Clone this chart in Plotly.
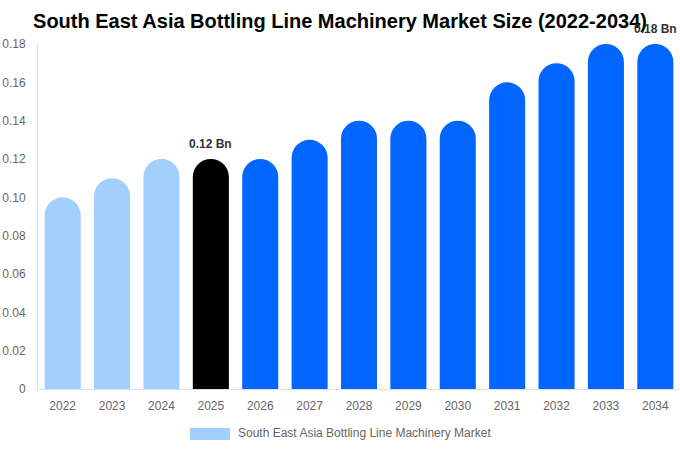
import plotly.graph_objects as go

years = ["2022", "2023", "2024", "2025", "2026", "2027", "2028", "2029", "2030", "2031", "2032", "2033", "2034"]
values = [0.10, 0.11, 0.12, 0.12, 0.12, 0.13, 0.14, 0.14, 0.14, 0.16, 0.17, 0.18, 0.18]
colors = ["#a3cfff"] * 3 + ["#000000"] + ["#0066ff"] * 9
labeled = {"2025": "0.12 Bn", "2034": "0.18 Bn"}
tick_vals = [0, 0.02, 0.04, 0.06, 0.08, 0.10, 0.12, 0.14, 0.16, 0.18]
tick_text = ["0", "0.02", "0.04", "0.06", "0.08", "0.10", "0.12", "0.14", "0.16", "0.18"]
legend_name = "South East Asia Bottling Line Machinery Market"

fig = go.Figure()
fig.add_trace(go.Bar(x=years, y=values, marker=dict(color=colors, line=dict(width=0)),
                     showlegend=False, hoverinfo="x+y"))

for i, (yr, v) in enumerate(zip(years, values)):
    if yr in labeled:
        fig.add_annotation(x=i, y=v, xref="x", yref="y", text="<b>" + labeled[yr] + "</b>",
                           showarrow=False, yanchor="bottom", yshift=6,
                           font=dict(family="Liberation Sans, Arial", size=12, color="#333333"))

fig.update_layout(
    width=680, height=450,
    margin=dict(l=38, r=0, t=44, b=61),
    paper_bgcolor="white", plot_bgcolor="white",
    font=dict(family="Liberation Sans, Arial", size=12, color="#666666"),
    title=dict(text="<b>South East Asia Bottling Line Machinery Market Size (2022-2034)</b>",
               x=0.5, xanchor="center", y=0.953, yanchor="middle",
               font=dict(size=20, color="#000000")),
    bargap=0.27,
    barcornerradius="50%",
    xaxis=dict(type="category", range=[-0.5, len(years) - 0.5], showgrid=False, showline=True,
               linecolor="#e0e0e0", ticks="", ticklabelstandoff=6, tickfont=dict(size=12, color="#666666")),
    yaxis=dict(range=[0, 0.18], tickvals=tick_vals, ticktext=tick_text, showgrid=False, zeroline=False,
               showline=True, linecolor="#e0e0e0", ticks="", ticklabelstandoff=9,
               tickfont=dict(size=12, color="#666666")),
    showlegend=False,
)
# legend drawn manually: wide swatch + label
fig.add_shape(type="rect", xref="paper", yref="paper",
              x0=(190 - 38) / 642, x1=(230 - 38) / 642, y0=-(440 - 389) / 345, y1=-(428 - 389) / 345,
              fillcolor="#a3cfff", line=dict(width=0))
fig.add_annotation(x=(236 - 38) / 642, y=-(433 - 389) / 345, xref="paper", yref="paper",
                   text=legend_name, showarrow=False, xanchor="left", yanchor="middle",
                   font=dict(size=12, color="#666666"))

fig.write_html("out.html")
